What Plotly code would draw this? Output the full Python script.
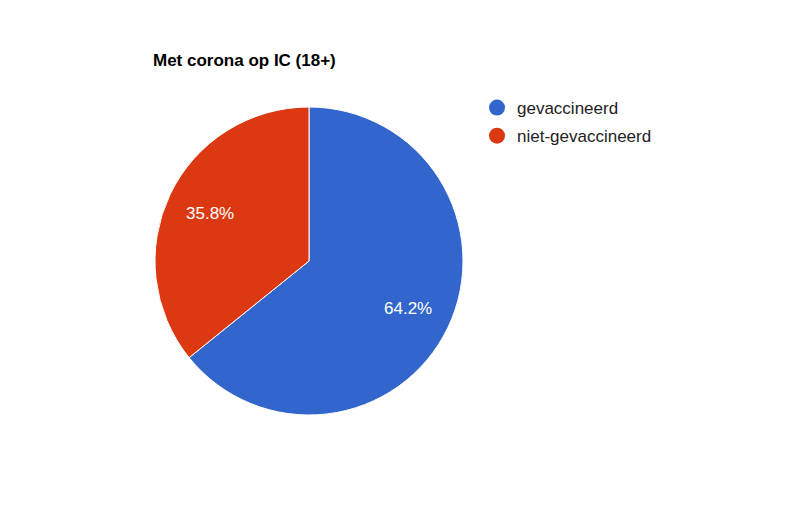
import math
import plotly.graph_objects as go

# pie data
labels = ["gevaccineerd", "niet-gevaccineerd"]
values = [64.2, 35.8]
colors = ["#3366cc", "#dc3912"]

W, H = 800, 522
# pie centre / radius in figure pixels (page adds an 8px body margin)
cx, cy, r = 301, 253, 154
label_r = 0.715 * r

fig = go.Figure()

fig.add_trace(go.Pie(
    labels=labels,
    values=values,
    sort=False,
    direction="clockwise",
    rotation=0,
    marker=dict(colors=colors, line=dict(color="white", width=1)),
    textinfo="none",
    hoverinfo="label+percent",
    showlegend=False,
    domain=dict(x=[(cx - r) / W, (cx + r) / W], y=[(H - cy - r) / H, (H - cy + r) / H]),
))

# percentage labels placed along each slice's mid angle, like google charts
total = sum(values)
start = 0.0
annotations = []
for v in values:
    mid = math.radians((start + v / 2) / total * 360)
    start += v
    px = cx + label_r * math.sin(mid)
    py = cy - label_r * math.cos(mid)
    annotations.append(dict(
        x=px / W, y=1 - py / H, xref="paper", yref="paper",
        text=f"{v / total * 100:.1f}%", showarrow=False,
        xanchor="center", yanchor="middle",
        font=dict(size=17, color="white"),
    ))

# circle markers for the legend, like the original
for name, col in zip(labels, colors):
    fig.add_trace(go.Scatter(
        x=[None], y=[None], mode="markers", name=name,
        legendgroup=name,
        marker=dict(symbol="circle", size=16, color=col),
        hoverinfo="skip",
    ))

fig.update_layout(
    width=W, height=H,
    margin=dict(l=0, r=0, t=0, b=0),
    paper_bgcolor="white",
    plot_bgcolor="white",
    font=dict(family="Arial, Liberation Sans", size=17, color="#222222"),
    title=dict(
        text="<b>Met corona op IC (18+)</b>",
        x=145 / W, xanchor="left",
        y=1 - 52 / H, yanchor="middle",
        font=dict(size=17, color="#000000"),
    ),
    legend=dict(
        x=469 / W, xanchor="left",
        y=1 - 82 / H, yanchor="top",
        bgcolor="rgba(0,0,0,0)",
        tracegroupgap=3,
        itemsizing="trace",
        font=dict(size=17, color="#222222"),
    ),
    annotations=annotations,
    xaxis=dict(visible=False),
    yaxis=dict(visible=False),
)

fig.write_html("out.html")
